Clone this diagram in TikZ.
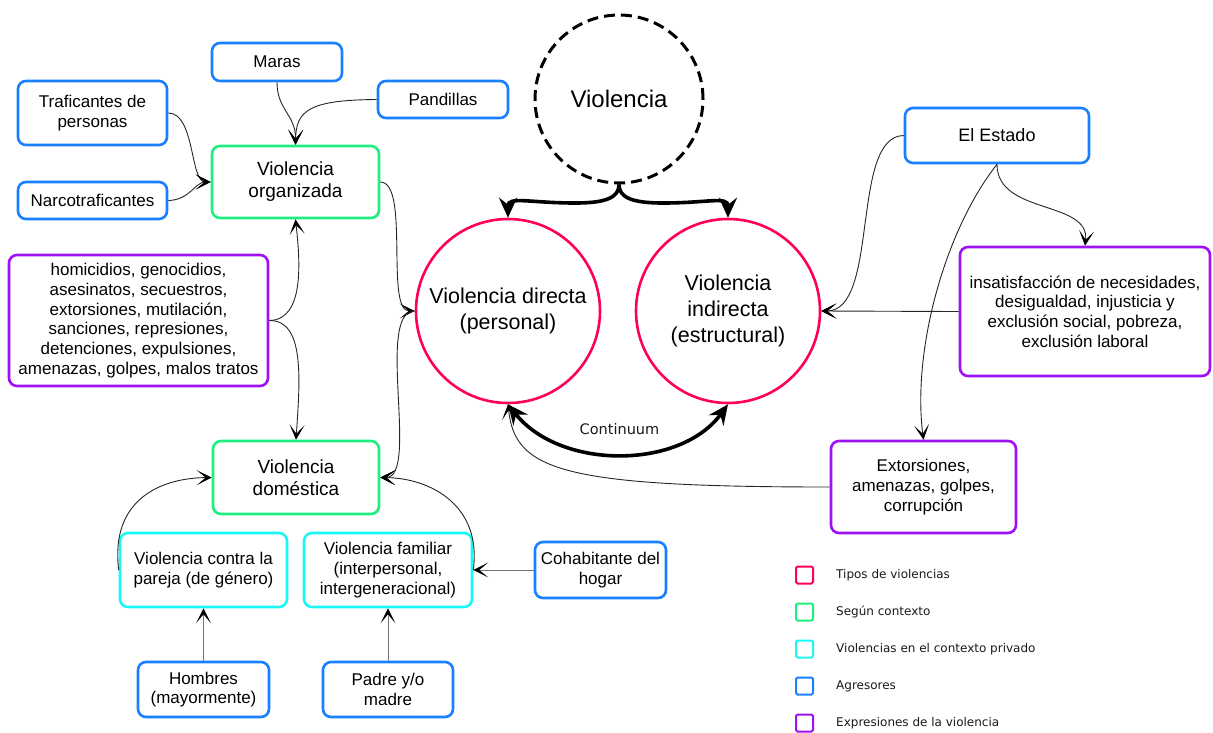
\documentclass[tikz,border=0pt]{standalone}
\usepackage{fontspec}
\setmainfont{Liberation Sans}
\newfontfamily\legfont{DejaVu Sans}
\usetikzlibrary{arrows.meta}

\definecolor{tipo}{HTML}{FF0055}
\definecolor{contexto}{HTML}{1EF07F}
\definecolor{privado}{HTML}{1AF7F7}
\definecolor{agresor}{HTML}{1A80FF}
\definecolor{expresion}{HTML}{A010F5}

\begin{document}
\begin{tikzpicture}[x=1pt,y=-1pt,
  box/.style={draw, rounded corners=8pt, line width=2.6pt, fill=white,
    align=center, inner sep=0pt},
  agr/.style={box, draw=agresor, font=\fontsize{17}{19.7}\selectfont},
  ctx/.style={box, draw=contexto, font=\fontsize{19}{22}\selectfont},
  priv/.style={box, draw=privado, font=\fontsize{17}{19.7}\selectfont},
  expr/.style={box, draw=expresion, font=\fontsize{17}{19.7}\selectfont},
  tipocirc/.style={circle, draw=tipo, line width=2.6pt, minimum size=184pt,
    align=center, inner sep=0pt, font=\fontsize{21.5}{26}\selectfont},
  rootcirc/.style={circle, draw=black, line width=3pt, dash pattern=on 11pt off 6pt,
    minimum size=168pt, inner sep=0pt, font=\fontsize{24}{28}\selectfont},
  link/.style={line width=0.9pt, draw=black!85,
    -{Stealth[length=15pt,width=15pt,inset=9pt,color=black]}},
  plainlink/.style={link, draw=black!55},
  bigtip/.tip={Stealth[length=20pt,width=18pt,inset=7pt]},
  heavy/.style={line width=3.6pt, draw=black, -bigtip},
  legbox/.style={draw, rounded corners=1.5pt, line width=2pt, minimum size=17pt, inner sep=0pt},
  legtext/.style={anchor=west, inner sep=0pt, font=\legfont\fontsize{12}{14}\selectfont, text=black!90}
]
\useasboundingbox (0,0) rectangle (1213,732);

% --- central types of violence ---
\node[rootcirc] (v) at (619,99) {Violencia};
\node[tipocirc] (d) at (508,311) {Violencia directa\\(personal)};
\node[tipocirc] (i) at (728,311) {Violencia\\indirecta\\(estructural)};

% --- organised violence and its agents ---
\node[agr, minimum width=130pt, minimum height=38pt] (maras) at (277,62) {Maras};
\node[agr, minimum width=130pt, minimum height=37pt] (pand) at (443,99.5) {Pandillas};
\node[agr, minimum width=149pt, minimum height=64pt] (traf) at (92.5,113) {Traficantes de\\personas};
\node[agr, minimum width=149pt, minimum height=37pt] (narco) at (92.5,200.5) {Narcotraficantes};
\node[ctx, minimum width=167pt, minimum height=72pt] (org) at (295.5,182) {Violencia\\organizada};
\node[expr, minimum width=259pt, minimum height=131pt] (hom) at (138.5,320.5)
  {homicidios, genocidios,\\asesinatos, secuestros,\\extorsiones, mutilación,\\sanciones, represiones,\\detenciones, expulsiones,\\amenazas, golpes, malos tratos};

% --- domestic violence ---
\node[ctx, minimum width=166pt, minimum height=73pt] (dom) at (296,477.5) {Violencia\\doméstica};
\node[priv, minimum width=167pt, minimum height=74pt] (pareja) at (203.5,570) {Violencia contra la\\pareja (de género)};
\node[priv, minimum width=168pt, minimum height=74pt] (fam) at (388,570) {Violencia familiar\\(interpersonal,\\intergeneracional)};
\node[agr, minimum width=131pt, minimum height=55pt] (homb) at (203.5,689.5) {Hombres\\(mayormente)};
\node[agr, minimum width=130pt, minimum height=55pt] (padre) at (388,689.5) {Padre y/o\\madre};
\node[agr, minimum width=131pt, minimum height=56pt] (cohab) at (600.5,570) {Cohabitante del\\hogar};

% --- the State ---
\node[agr, minimum width=184pt, minimum height=55pt, font=\fontsize{18}{21}\selectfont] (estado) at (997,135.5) {El Estado};
\node[expr, minimum width=250pt, minimum height=129pt] (insat) at (1085,311.5)
  {insatisfacción de necesidades,\\desigualdad, injusticia y\\exclusión social, pobreza,\\exclusión laboral};
\node[expr, minimum width=185pt, minimum height=92pt] (ext) at (923.5,487) {Extorsiones,\\amenazas, golpes,\\corrupción};

% --- heavy connectors ---
\draw[heavy] (v.south) .. controls (619,198) and (605,203) .. (575,203)
  .. controls (530,203) and (508,196) .. (d.north);
\draw[heavy] (v.south) .. controls (619,198) and (633,203) .. (663,203)
  .. controls (708,203) and (728,196) .. (i.north);
\draw[heavy, bigtip-bigtip]
  (d.south) .. controls (560,470) and (680,470) .. node[pos=0.5, above=14pt, font=\legfont\fontsize{14.5}{17}\selectfont, text=black!90] (cont) {Continuum} (i.south);

% --- agents of organised violence ---
\draw[link] (traf.east) .. controls (195,113) and (190,182) .. (org.west);
\draw[link] (narco.east) .. controls (190,200) and (195,182) .. (org.west);
\draw[link] (maras.south) .. controls (277,110) and (296,115) .. (org.north);
\draw[link] (pand.west) .. controls (310,100) and (296,110) .. (org.north);

% --- expressions towards both contexts ---
\draw[link] (hom.east) .. controls (305,320) and (300,260) .. (org.south);
\draw[link] (hom.east) .. controls (305,320) and (300,380) .. (dom.north);

% --- contexts and direct violence ---
\draw[link] (org.east) .. controls (410,182) and (385,311) .. (d.west);
\draw[link] (d.west) .. controls (375,311) and (420,478) .. (dom.east);

% --- private context ---
\draw[link] (pareja.west) .. controls (110,500) and (160,478) .. (dom.west);
\draw[link] (fam.east) .. controls (482,505) and (430,478) .. (dom.east);
\draw[plainlink] (cohab.west) -- (fam.east);
\draw[plainlink] (homb.north) -- (pareja.south);
\draw[plainlink] (padre.north) -- (fam.south);

% --- the State and structural violence ---
\draw[link] (estado.west) .. controls (850,136) and (880,311) .. (i.east);
\draw[link] (insat.west) -- (i.east);
\draw[link] (estado.south) .. controls (997,215) and (1090,200) .. (insat.north);
\draw[link] (estado.south) .. controls (945,230) and (912,350) .. (ext.north);
\draw[link] (ext.west) .. controls (560,487) and (515,470) .. (d.south);

% --- legend ---
\node[legbox, draw=tipo] (l1) at (804.5,575) {};
\node[legbox, draw=contexto] (l2) at (804.5,612) {};
\node[legbox, draw=privado] (l3) at (804.5,649) {};
\node[legbox, draw=agresor] (l4) at (804.5,686) {};
\node[legbox, draw=expresion] (l5) at (804.5,723) {};
\node[legtext] (t1) at (836,575) {Tipos de violencias};
\node[legtext] (t2) at (836,612) {Según contexto};
\node[legtext] (t3) at (836,649) {Violencias en el contexto privado};
\node[legtext] (t4) at (836,686) {Agresores};
\node[legtext] (t5) at (836,723) {Expresiones de la violencia};
\end{tikzpicture}
\end{document}
